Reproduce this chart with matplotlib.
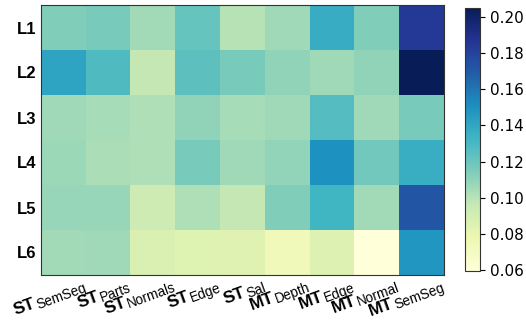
import matplotlib
matplotlib.use("Agg")
import matplotlib.pyplot as plt
import matplotlib.transforms as mtrans
from matplotlib.font_manager import FontProperties
import numpy as np

rows = ["L1", "L2", "L3", "L4", "L5", "L6"]
col_main = ["ST", "ST", "ST", "ST", "ST", "MT", "MT", "MT", "MT"]
col_sub = ["SemSeg", "Parts", "Normals", "Edge", "Sal",
           "Depth", "Edge", "Normal", "SemSeg"]

l1 = [0.114, 0.116, 0.105, 0.121, 0.100, 0.106, 0.137, 0.114, 0.185]
l2 = [0.141, 0.128, 0.097, 0.124, 0.116, 0.110, 0.106, 0.110, 0.205]
l3 = [0.106, 0.104, 0.102, 0.110, 0.104, 0.106, 0.126, 0.106, 0.116]
l4 = [0.107, 0.103, 0.102, 0.116, 0.106, 0.109, 0.150, 0.118, 0.136]
l5 = [0.108, 0.108, 0.093, 0.102, 0.097, 0.114, 0.132, 0.105, 0.172]
l6 = [0.105, 0.106, 0.087, 0.085, 0.084, 0.074, 0.086, 0.0595, 0.148]

data = np.array([l1, l2, l3, l4, l5, l6])

DPI = 100
fig = plt.figure(figsize=(5.26, 3.23), dpi=DPI)
ax = fig.add_axes([41 / 526, 1 - 275 / 323, 403 / 526, 270 / 323])
cax = fig.add_axes([465 / 526, 1 - 271 / 323, 15 / 526, 263 / 323])

im = ax.imshow(data, cmap="YlGnBu", aspect="auto", vmin=0.0595, vmax=0.205)

ax.set_xticks(np.arange(len(col_sub)))
ax.set_xticklabels([])
ax.set_yticks(np.arange(len(rows)))
ax.set_yticklabels(rows, fontsize=12, fontweight="bold", family="Liberation Sans")
ax.tick_params(length=0)
for s in ax.spines.values():
    s.set_color("#333333")

# x labels: bold name + larger-than-mathtext subscript, right end a bit
# right of the cell centre, rotated 20 degrees
rot = 20
fp_main = FontProperties(family="Liberation Sans", weight="bold", size=12.5)
fp_sub = FontProperties(family="Liberation Sans", size=9.8)
renderer = fig.canvas.get_renderer()
ux, uy = np.cos(np.radians(rot)), np.sin(np.radians(rot))
base = mtrans.blended_transform_factory(ax.transData, ax.transAxes)
rx, ry = 24, -16  # pixel offset of the label's right end from tick point
drop = 2
for i, (m, s) in enumerate(zip(col_main, col_sub)):
    w, _, _ = renderer.get_text_width_height_descent(s, fp_sub, ismath=False)
    t_sub = base + mtrans.ScaledTranslation(rx / DPI, ry / DPI, fig.dpi_scale_trans)
    ax.text(i, 0, s, fontproperties=fp_sub, rotation=rot, rotation_mode="anchor",
            ha="right", va="baseline", transform=t_sub, clip_on=False)
    jx = rx - (w + 1) * ux - drop * uy
    jy = ry - (w + 1) * uy + drop * ux
    t_main = base + mtrans.ScaledTranslation(jx / DPI, jy / DPI, fig.dpi_scale_trans)
    ax.text(i, 0, m, fontproperties=fp_main, rotation=rot, rotation_mode="anchor",
            ha="right", va="baseline", transform=t_main, clip_on=False)

cb = fig.colorbar(im, cax=cax)
cb.set_ticks([0.06, 0.08, 0.10, 0.12, 0.14, 0.16, 0.18, 0.20])
cb.ax.tick_params(labelsize=11)
cb.outline.set_edgecolor("#333333")

fig.savefig("out.png", dpi=DPI)
